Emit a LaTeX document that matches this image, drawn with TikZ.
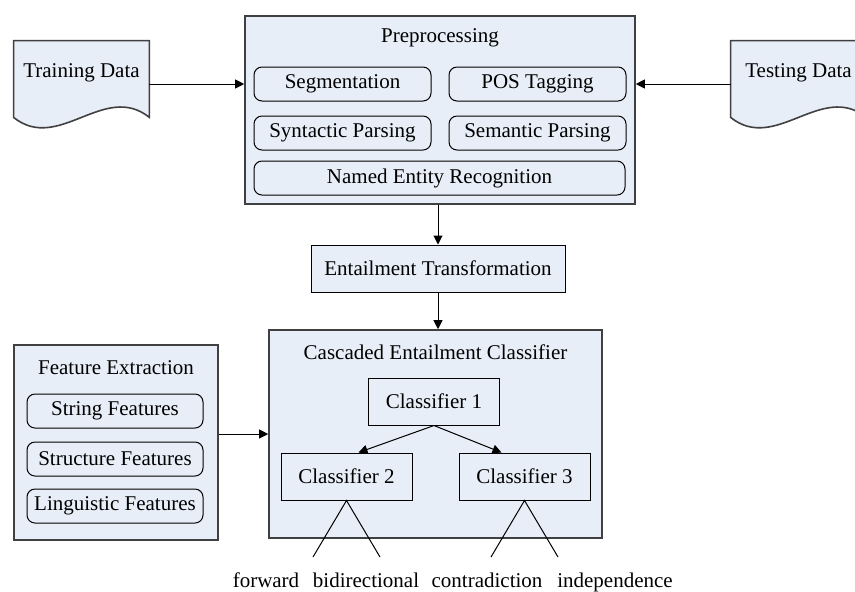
\documentclass[tikz,border=0pt]{standalone}
\usepackage{fontspec}
\setmainfont{Liberation Serif}
\usetikzlibrary{positioning, arrows.meta, calc, backgrounds}
\definecolor{boxfill}{RGB}{232,238,247}

\begin{document}
\begin{tikzpicture}[
        x=0.5pt, y=-0.5pt,
        font=\fontsize{10.5}{12.6}\selectfont,
        container/.style={rectangle, draw=black!75, line width=0.8pt, fill=boxfill, inner sep=0pt},
        module/.style={rectangle, rounded corners=4pt, draw=black, line width=0.5pt, fill=boxfill, minimum height=17pt, inner sep=0pt, text centered},
        classbox/.style={rectangle, draw=black, line width=0.5pt, fill=boxfill, minimum width=65.5pt, minimum height=23.5pt, inner sep=0pt, text centered},
        docbox/.style={rectangle, minimum width=67.5pt, minimum height=43pt, inner sep=0pt},
        docline/.style={draw=black!75, line width=0.8pt, fill=boxfill},
        arrow/.style={line width=0.5pt, -{Triangle[length=4.5pt, width=4.5pt]}},
        branch/.style={line width=0.5pt},
        outcome/.style={anchor=base, inner sep=0pt}
    ]
        \useasboundingbox (0,0) rectangle (855,591);

        % ===== data =====
        \node (train) [docbox, label={[anchor=center, yshift=-16pt]north:Training Data}] at (81.5,84) {};
        \node (test) [docbox, label={[anchor=center, yshift=-16pt]north:Testing Data}] at (798.5,84) {};
        \begin{scope}[on background layer]
            \foreach \d in {train, test} {
                \draw [docline] (\d.north west) -- (\d.north east) -- ($(\d.south east)+(0,-10)$)
                    .. controls ($(\d.south east)+(-45,-46)$) and ($(\d.south west)+(45,26)$) .. ($(\d.south west)+(0,-10)$) -- cycle;
            }
        \end{scope}

        % ===== preprocessing =====
        \node (prep) [container, minimum width=195pt, minimum height=94pt] at (440,110) {};
        \node (preptitle) at (440,38) {Preprocessing};
        \node (seg) [module, minimum width=88.5pt] at (342.5,84) {Segmentation};
        \node (pos) [module, minimum width=88.5pt, right=8.5pt of seg] {POS Tagging};
        \node (syn) [module, minimum width=88.5pt, below=7pt of seg] {Syntactic Parsing};
        \node (sem) [module, minimum width=88.5pt, below=7pt of pos] {Semantic Parsing};
        \node (ner) [module, minimum width=185.5pt, below=5pt of syn.south west, anchor=north west] {Named Entity Recognition};

        \node (entail) [classbox, minimum width=127pt] at (438,268.5) {Entailment Transformation};

        % ===== classifier =====
        \node (casc) [container, minimum width=166.5pt, minimum height=104pt] at (435.5,434) {};
        \node (casctitle) at (435.5,352) {Cascaded Entailment Classifier};
        \node (cls1) [classbox] at (434,401.5) {Classifier 1};
        \node (cls2) [classbox] at (346.5,476.5) {Classifier 2};
        \node (cls3) [classbox] at (524.5,476.5) {Classifier 3};

        % ===== features =====
        \node (feat) [container, minimum width=102pt, minimum height=97.5pt] at (116,442.5) {};
        \node (feattitle) at (116,368) {Feature Extraction};
        \node (strf) [module, minimum width=88pt] at (115,411) {String Features};
        \node (strucf) [module, minimum width=88pt, below=6.5pt of strf] {Structure Features};
        \node (lingf) [module, minimum width=88pt, below=6pt of strucf] {Linguistic Features};

        % ===== outcomes =====
        \coordinate (fwdend) at (313,557);
        \coordinate (bidend) at (380,557);
        \coordinate (conend) at (491,557);
        \coordinate (indend) at (558,557);
        \node (fwd) [outcome] at (266,587) {forward};
        \node (bid) [outcome] at (366,587) {bidirectional};
        \node (con) [outcome] at (487,587) {contradiction};
        \node (ind) [outcome] at (615,587) {independence};

        % ===== arrows =====
        \draw [arrow] (train.east) -- (prep.west |- train.east);
        \draw [arrow] (test.west) -- (prep.east |- test.west);
        \draw [arrow] (entail.north |- prep.south) -- (entail.north);
        \draw [arrow] (entail.south) -- (entail.south |- casc.north);
        \draw [arrow] (feat.east |- casc.west) -- (casc.west);
        \draw [arrow] (cls1.south) -- ($(cls2.north)+(12,0)$);
        \draw [arrow] (cls1.south) -- ($(cls3.north)+(-23,0)$);

        \draw [branch] (fwdend) -- (cls2.south) -- (bidend);
        \draw [branch] (conend) -- (cls3.south) -- (indend);

    \end{tikzpicture}
\end{document}
